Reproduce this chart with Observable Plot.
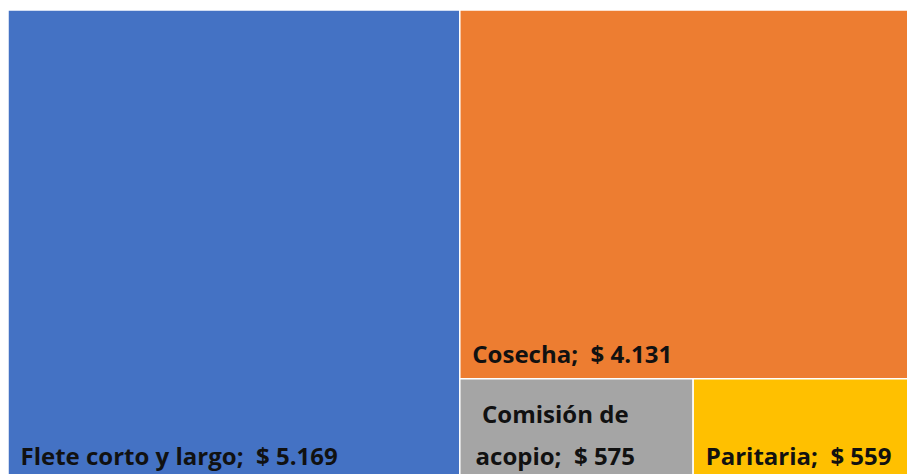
<!DOCTYPE html>
<html>
<head>
<meta charset="utf-8">
<script src="https://cdn.jsdelivr.net/npm/d3@7"></script>
<script src="https://cdn.jsdelivr.net/npm/@observablehq/plot@0.6"></script>
<style>
html, body { margin: 0; padding: 0; background: #fff; overflow: hidden; }
#chart { position: absolute; left: 8px; top: 10px; }
#chart svg { max-width: none !important; }
</style>
</head>
<body>
<div id="chart"></div>
<script>
const categories = ["Flete corto y largo", "Cosecha", "Comisión de acopio", "Paritaria"];
const values = [5169, 4131, 575, 559];
const valueLabels = ["$ 5.169", "$ 4.131", "$ 575", "$ 559"];
const colors = ["#4472C4", "#ED7D31", "#A5A5A5", "#FFC000"];

const W = 912, H = 470;
const root = d3.hierarchy({children: categories.map((c, i) => ({name: c, value: values[i], label: valueLabels[i], color: colors[i], idx: i}))})
  .sum(d => d.value || 0);
d3.treemap().tile(d3.treemapBinary).size([W, H]).round(false)(root);
const cells = root.leaves().map(n => ({
  name: n.data.name, value: n.data.value, label: n.data.label, color: n.data.color, idx: n.data.idx,
  x1: n.x0, x2: n.x1, y1: n.y0, y2: n.y1
}));
const single = cells.filter(d => d.idx !== 2);
const wrapped = cells.filter(d => d.idx === 2);

const font = "'Open Sans', sans-serif";
const chart = Plot.plot({
  width: W, height: H, margin: 0,
  style: {maxWidth: "none"},
  x: {domain: [0, W], range: [0, W], axis: null},
  y: {domain: [0, H], range: [0, H], axis: null},
  marks: [
    Plot.rect(cells, {x1: "x1", x2: "x2", y1: "y1", y2: "y2", fill: "color", stroke: "#fff", strokeWidth: 1.5}),
    Plot.text(single, {x: "x1", y: "y2", text: d => `${d.name};  ${d.label}`, textAnchor: "start", lineAnchor: "bottom",
      dx: 12, dy: -16, fill: "#111", fontSize: 24, fontWeight: "bold", fontFamily: font}),
    Plot.text(wrapped, {x: "x1", y: "y2", text: d => `Comisión de\nacopio;  ${d.label}`, textAnchor: "middle", lineAnchor: "bottom",
      lineHeight: 1.75, dx: 95, dy: -16, fill: "#111", fontSize: 24, fontWeight: "bold", fontFamily: font})
  ]
});
document.getElementById("chart").appendChild(chart);
</script>
</body>
</html>
